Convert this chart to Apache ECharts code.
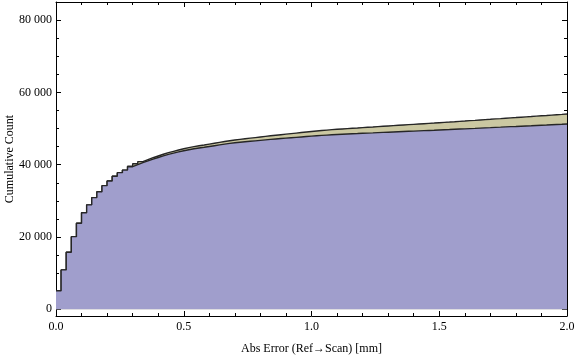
<!DOCTYPE html>
<html>
<head>
<meta charset="utf-8">
<script src="https://cdn.jsdelivr.net/npm/echarts@6/dist/echarts.min.js"></script>
<style>
  html, body { margin: 0; padding: 0; background: #fff; }
  #chart { width: 576px; height: 356px; }
</style>
</head>
<body>
<div id="chart"></div>
<script>
// bin width of the histogram (mm)
const binWidth = 0.02;

// cumulative counts, one value per bin (0 .. 2.0 mm)
const countsLower = [
  5150, 10900, 15800, 20100, 23800, 26700, 28900, 30900, 32500, 34200,
  35500, 36800, 37800, 38500, 39450, 40000, 40550, 41050, 41550, 42000,
  42450, 42850, 43200, 43550, 43850, 44150, 44400, 44620, 44810, 45030,
  45250, 45470, 45690, 45910, 46050, 46190, 46330, 46470, 46600, 46730,
  46860, 46990, 47110, 47230, 47350, 47460, 47570, 47680, 47790, 47900,
  48000, 48100, 48190, 48280, 48350, 48420, 48490, 48550, 48610, 48680,
  48740, 48800, 48870, 48930, 48990, 49050, 49110, 49170, 49230, 49290,
  49350, 49410, 49470, 49530, 49600, 49660, 49720, 49790, 49860, 49920,
  49990, 50050, 50120, 50190, 50250, 50320, 50380, 50450, 50520, 50580,
  50650, 50720, 50780, 50850, 50920, 50980, 51050, 51120, 51180, 51250
];
const countsUpper = [
  5150, 10900, 15800, 20100, 23800, 26700, 28900, 30900, 32500, 34200,
  35500, 36800, 37800, 38500, 39600, 40250, 40850, 41390, 41930, 42410,
  42890, 43320, 43700, 44070, 44395, 44720, 44990, 45235, 45450, 45690,
  45930, 46170, 46405, 46640, 46814, 46988, 47162, 47336, 47500, 47664,
  47828, 47992, 48146, 48300, 48454, 48598, 48742, 48886, 49030, 49174,
  49308, 49442, 49566, 49690, 49790, 49889, 49988, 50077, 50166, 50265,
  50354, 50443, 50542, 50631, 50720, 50809, 50898, 50987, 51076, 51165,
  51254, 51343, 51432, 51521, 51620, 51710, 51795, 51890, 51990, 52080,
  52180, 52270, 52370, 52470, 52560, 52660, 52750, 52850, 52950, 53040,
  53140, 53240, 53330, 53430, 53530, 53620, 53720, 53820, 53910, 54020
];

// tick values
const yMajorTicks = [0, 20000, 40000, 60000, 80000];
const yMinorTicks = [5000, 10000, 15000, 25000, 30000, 35000, 45000, 50000, 55000, 65000, 70000, 75000, 85000];

function toSteps(counts) {
  const pts = counts.map((v, i) => [+(i * binWidth).toFixed(2), v]);
  pts.push([+(counts.length * binWidth).toFixed(2), counts[counts.length - 1]]);
  return pts;
}

const font = 'Liberation Serif';
const fmt = v => v >= 10000 ? String(v).replace(/(\d+)(\d{3})$/, '$1 $2') : String(v);

const chart = echarts.init(document.getElementById('chart'), null, { renderer: 'canvas' });

const xBase = {
  type: 'value', min: 0, max: 2, interval: 0.5,
  axisLine: { onZero: false, lineStyle: { color: '#000', width: 1 } },
  axisTick: { inside: true, length: 5, lineStyle: { color: '#000' } },
  minorTick: { show: true, splitNumber: 5, length: 3, lineStyle: { color: '#000' } },
  splitLine: { show: false }
};
const yBase = {
  type: 'value', min: -1850, max: 85000,
  axisLine: { show: false, onZero: false, lineStyle: { color: '#000', width: 1 } },
  axisTick: { inside: true, lineStyle: { color: '#000' } },
  splitLine: { show: false },
  axisLabel: { show: false }
};

const option = {
  animation: false,
  grid: { left: 56, right: 9, top: 2, bottom: 40, containLabel: false, outerBoundsMode: 'none' },
  xAxis: [
    Object.assign({}, xBase, {
      position: 'bottom',
      name: 'Abs Error (Ref\u2192Scan) [mm]',
      nameLocation: 'middle', nameGap: 27, nameMoveOverlap: false,
      nameTextStyle: { fontFamily: font, fontSize: 12, color: '#000' },
      axisLabel: { fontFamily: font, fontSize: 12, color: '#000', margin: 5,
        formatter: v => v.toFixed(1) }
    }),
    Object.assign({}, xBase, { position: 'top', axisLabel: { show: false } })
  ],
  yAxis: [
    Object.assign({}, yBase, {
      position: 'left',
      axisLine: { show: true, onZero: false, lineStyle: { color: '#000', width: 1 } },
      axisTick: { inside: true, length: 5, customValues: yMajorTicks, lineStyle: { color: '#000' } },
      axisLabel: { show: true, customValues: yMajorTicks, fontFamily: font, fontSize: 12,
        color: '#000', margin: 4, formatter: fmt },
      name: 'Cumulative Count', nameLocation: 'middle', nameGap: 40, nameMoveOverlap: false,
      nameTextStyle: { fontFamily: font, fontSize: 12, color: '#000' }
    }),
    Object.assign({}, yBase, {
      position: 'left',
      axisTick: { inside: true, length: 3, customValues: yMinorTicks, lineStyle: { color: '#000' } }
    }),
    Object.assign({}, yBase, {
      position: 'right',
      axisLine: { show: true, onZero: false, lineStyle: { color: '#000', width: 1 } },
      axisTick: { inside: true, length: 5, customValues: yMajorTicks, lineStyle: { color: '#000' } }
    }),
    Object.assign({}, yBase, {
      position: 'right',
      axisTick: { inside: true, length: 3, customValues: yMinorTicks, lineStyle: { color: '#000' } }
    })
  ],
  series: [
    {
      name: 'upper', type: 'line', step: 'end', showSymbol: false,
      data: toSteps(countsUpper),
      lineStyle: { color: '#262626', width: 1.4 },
      areaStyle: { color: '#cbc8a2', opacity: 1 },
      z: 2
    },
    {
      name: 'lower', type: 'line', step: 'end', showSymbol: false,
      data: toSteps(countsLower),
      lineStyle: { color: '#262626', width: 1.4 },
      areaStyle: { color: '#a09ecc', opacity: 1 },
      z: 3
    }
  ]
};

chart.setOption(option);
</script>
</body>
</html>
